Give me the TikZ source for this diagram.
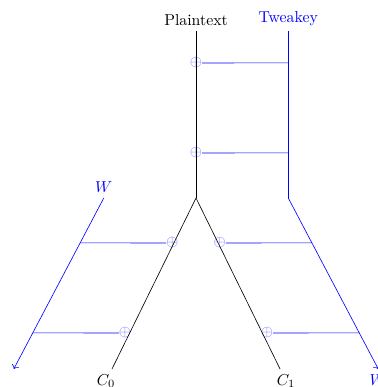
\documentclass[tikz,border=0pt]{standalone}
\usepackage{tikz}
\usetikzlibrary{arrows.meta,positioning,calc}
\tikzset{
    % Data path (black)
    state/.style={
        thin,
        draw=black
    },
    % Key path (blue)
    keyline/.style={
        thin,
        draw=blue
    },
    key arrow/.style={
        keyline,
        ->
    },
    label text/.style={
        text=black,
        font=\normalsize
    },
    key text/.style={
        text=blue,
        font=\normalsize
    },
    % XOR gate
    xor/.style={
        text=blue!55,
        inner sep=0pt,
        outer sep=0pt
    }
}
\begin{document}
\begin{tikzpicture}
        \useasboundingbox (-4.356,-4.2) rectangle (4.044,4.4);

        % Inputs at the top
        \node[label text, above] (plain) at (0,3.7) {Plaintext};
        \node[key text, above] (tweak) at (2.05,3.7) {Tweakey};
        \coordinate (split) at (0,0);
        \coordinate (tsplit) at (2.05,0);

        % Outputs at the bottom
        \coordinate (cL) at (-2,-3.8);
        \coordinate (cR) at (2,-3.8);
        \node[label text, below] (c0) at (cL) {$C_0$};
        \node[label text, below] (c1) at (cR) {$C_1$};

        % Key branches
        \coordinate (wL) at (-2.05,0);
        \coordinate (wLend) at (-4.05,-3.8);
        \coordinate (wRend) at (4.05,-3.8);
        \node[key text, above=0pt of wL] (w0) {$W$};
        \node[key text, below] (w1) at (wRend) {$W$};

        % XOR gates
        \node[xor] (x1) at (0,3) {$\oplus$};
        \node[xor] (x2) at (0,1) {$\oplus$};
        \node[xor] (x3) at ($(split)!1/3.8!(cL)$) {$\oplus$};
        \node[xor] (x4) at ($(split)!3/3.8!(cL)$) {$\oplus$};
        \node[xor] (x5) at ($(split)!1/3.8!(cR)$) {$\oplus$};
        \node[xor] (x6) at ($(split)!3/3.8!(cR)$) {$\oplus$};

        % Branch points on the key lines
        \coordinate (k1) at (x1 -| tsplit);
        \coordinate (k2) at (x2 -| tsplit);
        \coordinate (k3) at ($(wL)!1/3.8!(wLend)$);
        \coordinate (k4) at ($(wL)!3/3.8!(wLend)$);
        \coordinate (k5) at ($(tsplit)!1/3.8!(wRend)$);
        \coordinate (k6) at ($(tsplit)!3/3.8!(wRend)$);

        % Key lines into the XORs
        \foreach \i in {1,...,6}
            \draw[keyline] (x\i) -- ([yshift=0.1pt]k\i);
        \draw[keyline] (tweak) -- (tsplit);
        \draw[key arrow] (wL) -- (wLend);
        \draw[key arrow] (tsplit) -- (wRend);

        % State lines
        \draw[state] (plain) -- (split);
        \draw[state] (split) -- (c0);
        \draw[state] (split) -- (c1);
    \end{tikzpicture}
\end{document}
